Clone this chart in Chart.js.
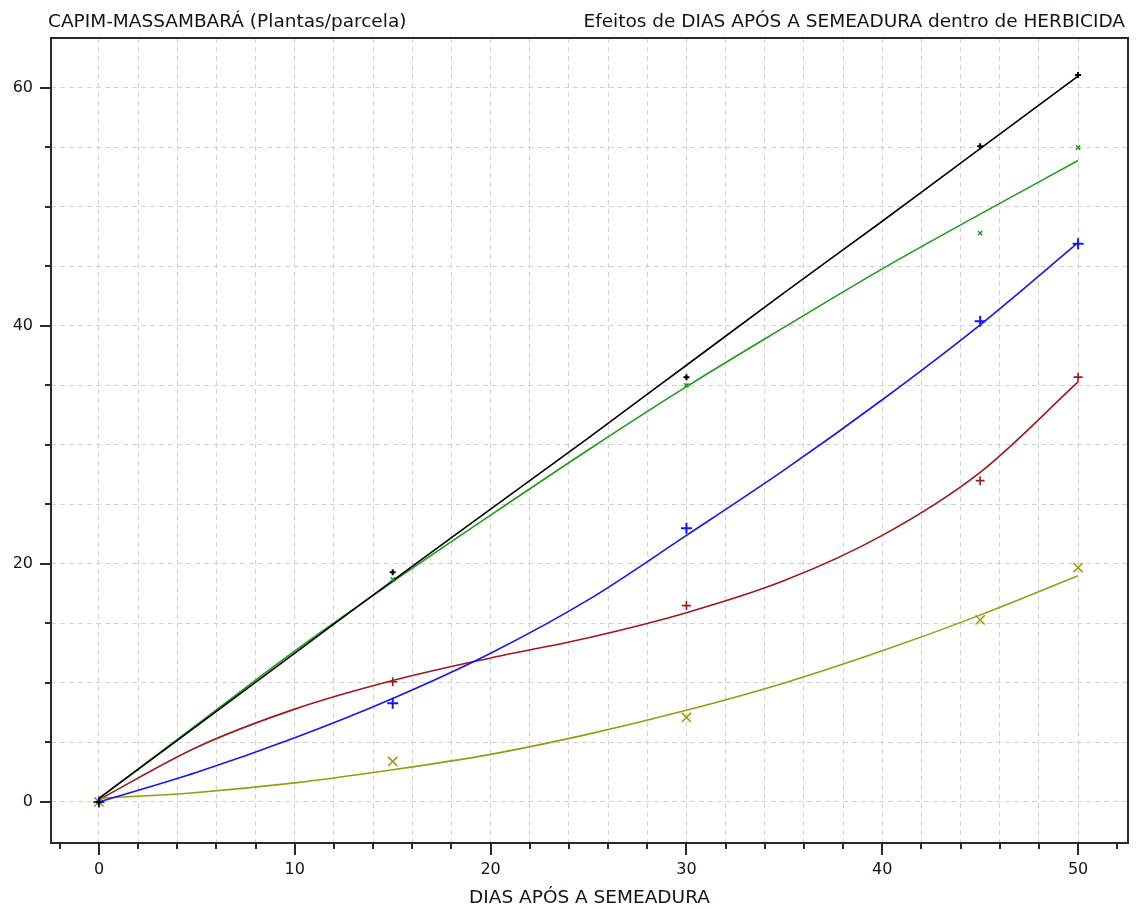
<!DOCTYPE html>
<html>
<head>
<meta charset="utf-8">
<script src="https://cdn.jsdelivr.net/npm/chart.js@4"></script>
<style>
  html, body { margin: 0; padding: 0; background: #fff; overflow: hidden; }
  canvas { display: block; }
</style>
</head>
<body>
<canvas id="chart" width="1137" height="909"></canvas>
<script>
const pointDays = [0, 15, 30, 45, 50];
const blackPts = [0, 19.3, 35.7, 55.1, 61.1];
const greenPts = [0, 18.7, 35.0, 47.8, 55.0];
const bluePts  = [0, 8.3, 23.0, 40.4, 46.9];
const redPts   = [0, 10.1, 16.5, 27.0, 35.7];
const olivePts = [0, 3.4, 7.1, 15.3, 19.7];

// fitted curves, every 5 days
const curveDays = [0, 5, 10, 15, 20, 25, 30, 35, 40, 45, 50];
const blackFit = [0.3, 6.4, 12.5, 18.6, 24.6, 30.6, 36.7, 42.8, 48.8, 54.9, 61.0];
const greenFit = [0.3, 6.5, 12.7, 18.5, 24.1, 29.6, 34.9, 39.9, 44.8, 49.4, 53.9];
const blueFit  = [0, 2.5, 5.4, 8.7, 12.5, 17.0, 22.4, 27.9, 33.8, 40.1, 47.0];
const redFit   = [0.2, 4.6, 7.8, 10.2, 12.1, 13.8, 15.9, 18.6, 22.4, 27.7, 35.3];
const oliveFit = [0.3, 0.8, 1.6, 2.7, 4.0, 5.7, 7.7, 10.0, 12.7, 15.7, 19.0];

const leftTitle = 'CAPIM-MASSAMBARÁ (Plantas/parcela)';
const rightTitle = 'Efeitos de DIAS APÓS A SEMEADURA dentro de HERBICIDA';
const xTitle = 'DIAS APÓS A SEMEADURA';

const FONT = '"DejaVu Sans", Tahoma, sans-serif';
const TXT = '#111122';

function pairs(xs, ys) {
    return xs.map((x, i) => ({ x: x, y: ys[i] }));
}

function curve(ys, color) {
    return {
        data: pairs(curveDays, ys),
        showLine: true,
        borderColor: color,
        borderWidth: 1.6,
        pointRadius: 0,
        cubicInterpolationMode: 'monotone',
        order: 2
    };
}

function marks(ys, color, style, radius, width) {
    return {
        data: pairs(pointDays, ys),
        showLine: false,
        pointStyle: style,
        pointRadius: radius,
        borderColor: color,
        backgroundColor: color,
        pointBorderWidth: width,
        order: 1
    };
}

// titles, border box and tick marks
const framePlugin = {
    id: 'frame',
    afterDraw(chart) {
        const { ctx, chartArea: a, scales } = chart;
        ctx.save();
        ctx.strokeStyle = '#2a2a2a';
        ctx.lineWidth = 2;
        ctx.strokeRect(a.left, a.top, a.right - a.left, a.bottom - a.top);

        ctx.beginPath();
        for (let v = -2; v <= 52; v += 2) {
            const px = Math.round(scales.x.getPixelForValue(v));
            const len = v % 10 === 0 ? 12 : 6;
            ctx.moveTo(px, a.bottom);
            ctx.lineTo(px, a.bottom + len);
        }
        for (let v = 0; v <= 60; v += 5) {
            const py = Math.round(scales.y.getPixelForValue(v));
            const len = v % 20 === 0 ? 11 : 6;
            ctx.moveTo(a.left, py);
            ctx.lineTo(a.left - len, py);
        }
        ctx.stroke();

        ctx.fillStyle = TXT;
        ctx.font = '18.5px ' + FONT;
        ctx.textBaseline = 'alphabetic';
        ctx.textAlign = 'left';
        ctx.fillText(leftTitle, 48, 27);
        ctx.textAlign = 'right';
        ctx.fillText(rightTitle, 1125, 27);
        ctx.textAlign = 'center';
        ctx.fillText(xTitle, (a.left + a.right) / 2, 903);
        ctx.restore();
    }
};

const gridDash = { display: false, dash: [5, 4] };

const ctx = document.getElementById('chart').getContext('2d');
new Chart(ctx, {
    type: 'scatter',
    data: {
        datasets: [
            curve(blackFit, '#000000'),
            curve(greenFit, '#1f9a1f'),
            curve(blueFit, '#1414ff'),
            curve(redFit, '#a01818'),
            curve(oliveFit, '#9a9a10'),
            marks(blackPts, '#000000', 'cross', 3, 2),
            marks(greenPts, '#1f9a1f', 'crossRot', 3, 1.5),
            marks(bluePts, '#1414ff', 'cross', 5.5, 2),
            marks(redPts, '#a01818', 'cross', 4.5, 1.6),
            marks(olivePts, '#9a9a10', 'crossRot', 6.5, 1.5)
        ]
    },
    options: {
        responsive: false,
        animation: false,
        layout: { padding: { top: 38, right: 9, left: 0, bottom: 0 } },
        plugins: {
            legend: { display: false },
            tooltip: { enabled: false }
        },
        scales: {
            x: {
                type: 'linear',
                min: -2.45,
                max: 52.55,
                border: gridDash,
                grid: {
                    drawTicks: false,
                    lineWidth: 1,
                    color: c => (Number.isInteger(c.tick.value) ? '#d2d2d2' : 'rgba(0,0,0,0)')
                },
                ticks: {
                    stepSize: 2,
                    autoSkip: false,
                    maxRotation: 0,
                    padding: 17,
                    color: TXT,
                    font: { family: FONT, size: 16 },
                    callback: v => (v % 10 === 0 ? String(v) : '')
                },
                afterFit: s => {
                    s.height = 66;
                    s.paddingLeft = 0;
                    s.paddingRight = 0;
                }
            },
            y: {
                type: 'linear',
                min: -3.45,
                max: 64.2,
                border: gridDash,
                grid: {
                    drawTicks: false,
                    lineWidth: 1,
                    color: c => (Number.isInteger(c.tick.value) ? '#d2d2d2' : 'rgba(0,0,0,0)')
                },
                ticks: {
                    stepSize: 5,
                    autoSkip: false,
                    padding: 18,
                    color: TXT,
                    font: { family: FONT, size: 16 },
                    callback: v => (v % 20 === 0 ? String(v) : '')
                },
                afterFit: s => { s.width = 51; }
            }
        }
    },
    plugins: [framePlugin]
});
</script>
</body>
</html>
